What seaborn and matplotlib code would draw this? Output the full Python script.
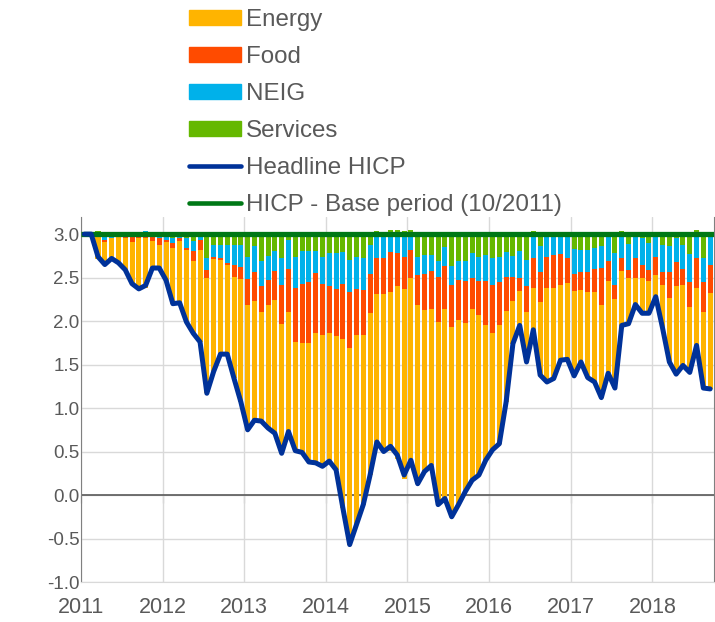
import numpy as np
import pandas as pd
import seaborn as sns
import matplotlib.pyplot as plt
from matplotlib.patches import Patch
from matplotlib.lines import Line2D

# contributions to the change in HICP since the base period (10/2011), monthly
base_period = 3.0

energy = [0, 0, -0.26, -0.26, -0.24, -0.31, -0.36, -0.48, -0.59, -0.57, -0.31, -0.26,
          -0.44, -0.64, -0.72, -0.83, -0.83, -1.06, -1.33, -1.29, -1.08, -1.03, -1.17,
          -1.41, -1.44, -1.37, -1.26, -1.41, -1.53, -1.49, -1.37, -1.25, -1.26, -1.37,
          -1.49, -1.51, -1.47, -1.54, -1.94, -2.26, -2.18, -1.95, -1.86, -1.74, -1.81,
          -1.82, -1.99, -2.18, -2.14, -2.06, -1.86, -1.80, -2.10, -2.18, -2.18, -2.12,
          -1.94, -1.97, -1.84, -1.56, -1.34, -1.36, -1.05, -0.49, -0.40, -0.58, -0.52,
          -0.84, -1.08, -1.04, -0.86, -0.88, -0.98, -0.83, -0.98, -1.03, -1.06, -1.06,
          -1.02, -0.66, -0.52, -0.30, -0.40, -0.37, -0.25, -0.49, -0.74, -1.01, -0.92,
          -0.75, -0.71, -0.88, -1.10]
food = [0, 0, -0.03, -0.03, 0, -0.02, -0.05, -0.09, -0.04, -0.05, -0.08, -0.09,
        -0.03, -0.06, -0.03, -0.02, -0.115, -0.115, -0.09, -0.03, -0.02, -0.02, -0.13,
        -0.14, -0.29, -0.33, -0.29, -0.29, -0.34, -0.44, -0.50, -0.62, -0.68, -0.70,
        -0.69, -0.59, -0.54, -0.54, -0.64, -0.65, -0.53, -0.52, -0.45, -0.41, -0.41,
        -0.46, -0.38, -0.37, -0.33, -0.34, -0.41, -0.44, -0.52, -0.49, -0.48, -0.46,
        -0.48, -0.36, -0.39, -0.50, -0.56, -0.50, -0.39, -0.28, -0.14, -0.29, -0.34,
        -0.34, -0.36, -0.38, -0.36, -0.28, -0.19, -0.20, -0.23, -0.27, -0.43, -0.23,
        -0.17, -0.15, -0.10, -0.23, -0.16, -0.13, -0.21, -0.15, -0.29, -0.28, -0.19,
        -0.29, -0.34, -0.34, -0.33]
neig = [0, 0, 0, -0.065, -0.04, 0, 0, 0, 0, 0.03, 0, -0.04,
        -0.065, -0.05, -0.045, -0.11, -0.115, -0.065, -0.13, -0.13, -0.15, -0.20, -0.23,
        -0.26, -0.26, -0.30, -0.29, -0.28, -0.23, -0.31, -0.33, -0.36, -0.38, -0.36,
        -0.26, -0.31, -0.38, -0.41, -0.36, -0.36, -0.37, -0.36, -0.33, -0.28, -0.28,
        -0.21, -0.22, -0.26, -0.18, -0.21, -0.22, -0.18, -0.18, -0.22, -0.22, -0.22,
        -0.23, -0.28, -0.28, -0.30, -0.30, -0.29, -0.28, -0.24, -0.32, -0.30, -0.28,
        -0.30, -0.26, -0.24, -0.23, -0.25, -0.29, -0.26, -0.26, -0.24, -0.25, -0.31,
        -0.36, -0.28, -0.30, -0.28, -0.31, -0.31, -0.26, -0.31, -0.30, -0.28, -0.28,
        -0.32, -0.28, -0.27, -0.32]
services = [0, 0, 0.03, 0, 0, 0, 0, 0, 0, 0, 0, 0,
            0, -0.05, 0, -0.05, -0.08, 0, -0.28, -0.13, -0.13, -0.13, -0.13,
            -0.12, -0.26, -0.14, -0.31, -0.25, -0.19, -0.28, -0.07, -0.26, -0.19, -0.19,
            -0.19, -0.26, -0.22, -0.22, -0.21, -0.30, -0.26, -0.28, -0.13, 0.04, 0,
            0.05, 0.05, 0.04, 0.05, -0.26, -0.24, -0.24, -0.31, -0.15, -0.37, -0.31,
            -0.31, -0.22, -0.26, -0.24, -0.28, -0.26, -0.21, -0.25, -0.19, -0.30, 0.04,
            -0.14, 0, 0, 0, -0.03, -0.17, -0.18, -0.18, -0.16, -0.14, 0,
            -0.22, 0.04, -0.11, 0, -0.04, -0.10, 0, -0.13, -0.14, -0.04, -0.12,
            -0.23, 0.05, -0.28, -0.03]
headline = [3.0, 3.0, 2.74, 2.65, 2.72, 2.67, 2.59, 2.43, 2.37, 2.41, 2.61, 2.61,
            2.47, 2.20, 2.21, 1.99, 1.86, 1.76, 1.17, 1.42, 1.62, 1.62, 1.34,
            1.07, 0.75, 0.86, 0.85, 0.77, 0.71, 0.48, 0.73, 0.51, 0.49, 0.38,
            0.37, 0.33, 0.39, 0.29, -0.15, -0.57, -0.34, -0.11, 0.23, 0.61, 0.50,
            0.56, 0.46, 0.23, 0.40, 0.13, 0.27, 0.34, -0.11, -0.04, -0.25, -0.11,
            0.04, 0.17, 0.23, 0.40, 0.52, 0.59, 1.07, 1.74, 1.95, 1.53, 1.90,
            1.38, 1.30, 1.34, 1.55, 1.56, 1.37, 1.53, 1.35, 1.30, 1.12, 1.40,
            1.23, 1.95, 1.97, 2.19, 2.09, 2.09, 2.28, 1.92, 1.53, 1.39, 1.49,
            1.41, 1.72, 1.23, 1.22]
years = ["2011", "2012", "2013", "2014", "2015", "2016", "2017", "2018"]

colors = {"Energy": "#FFB400", "Food": "#FF4B00", "NEIG": "#00B1EA", "Services": "#65B800"}
line_blue = "#003299"
line_green = "#007816"
text_col = "#595959"

df = pd.DataFrame({"month": np.arange(len(headline)), "Energy": energy, "Food": food,
                   "NEIG": neig, "Services": services, "headline": headline})

sns.set_style("white")
plt.rcParams['font.family'] = ['Liberation Sans', 'DejaVu Sans']
plt.rcParams['axes.unicode_minus'] = False

fig = plt.figure(figsize=(7.15, 6.22), dpi=100)
ax = fig.add_axes([0.1133, 0.0643, 0.8847, 0.5873])

# stack from the base level: services on top, then NEIG, food, energy
pos = np.full(len(df), base_period)
neg = np.full(len(df), base_period)
for comp in ["Services", "NEIG", "Food", "Energy"]:
    vals = df[comp].to_numpy()
    bottom = np.where(vals >= 0, pos, neg)
    ax.bar(df["month"], vals, bottom=bottom, width=0.74, color=colors[comp],
           linewidth=0, zorder=2)
    pos = pos + np.clip(vals, 0, None)
    neg = neg + np.clip(vals, None, 0)

ax.axhline(base_period, color=line_green, lw=3.8, zorder=3, solid_capstyle="butt")
sns.lineplot(data=df, x="month", y="headline", color=line_blue, lw=3.6, ax=ax,
             zorder=4, legend=False)
for l in ax.lines:
    l.set_solid_joinstyle("round")

ax.axhline(0, color=text_col, lw=1.2, zorder=1)

ax.set_xlim(-0.5, len(df) - 0.5)
ax.set_ylim(-1.0, 3.2)
year_pos = np.arange(len(years)) * 12 - 0.5
ax.set_xticks(year_pos)
ax.set_xticklabels(years)
yt = np.arange(-1.0, 3.01, 0.5)
ax.set_yticks(yt)
ax.set_yticklabels([f"{v:.1f}" for v in yt])
ax.set_xlabel("")
ax.set_ylabel("")

ax.grid(True, color="#d9d9d9", lw=1)
ax.set_axisbelow(True)
ax.spines["top"].set_visible(False)
ax.spines["left"].set_color("#808080")
ax.spines["right"].set_color("#808080")
ax.spines["bottom"].set_color("#d9d9d9")
ax.tick_params(axis="y", direction="in", length=7, color="#808080", labelsize=13.5,
               labelcolor=text_col, pad=1)
ax.tick_params(axis="x", length=0, labelsize=15.5, labelcolor=text_col, pad=11)

# small ticks below the zero line at the year boundaries
sec = ax.secondary_xaxis(0, transform=ax.transData)
sec.set_xticks(year_pos)
sec.xaxis.set_ticks_position("bottom")
sec.tick_params(axis="x", direction="out", length=6, color=text_col,
                labelbottom=False, labeltop=False)
for s in sec.spines.values():
    s.set_visible(False)

handles = [Patch(color=colors[k], label=k) for k in ["Energy", "Food", "NEIG", "Services"]]
handles += [Line2D([], [], color=line_blue, lw=3.3, solid_capstyle="round", label="Headline HICP"),
            Line2D([], [], color=line_green, lw=3.3, solid_capstyle="round",
                   label="HICP - Base period (10/2011)")]
fig.legend(handles=handles, loc="upper left", bbox_to_anchor=(189 / 715, 1 - 9 / 622),
           frameon=False, fontsize=17.4, labelcolor=text_col, borderpad=0, borderaxespad=0,
           handlelength=2.15, handleheight=0.55, handletextpad=0.2, labelspacing=0.62)

fig.savefig("out.png", dpi=100)
